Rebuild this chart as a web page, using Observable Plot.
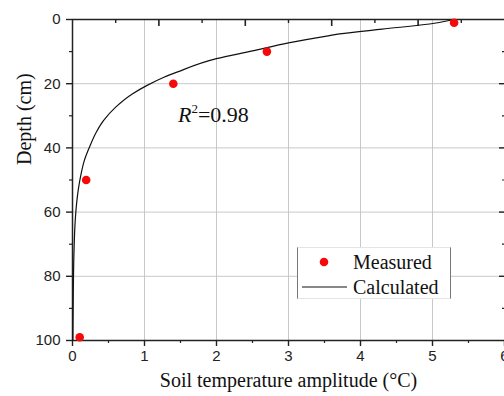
<!DOCTYPE html>
<html>
<head>
<meta charset="utf-8">
<script src="https://cdn.jsdelivr.net/npm/d3@7"></script>
<script src="https://cdn.jsdelivr.net/npm/@observablehq/plot@0.6"></script>
<style>
  html, body { margin: 0; padding: 0; background: #fff; overflow: hidden; }
  #wrap { position: relative; width: 504px; height: 396px; }
  .serif { font-family: "Liberation Serif", "Times New Roman", serif; color: #111; position: absolute; white-space: nowrap; }
  #r2 { left: 178px; top: 104px; font-size: 22px; line-height: 1; }
  #legend { left: 297px; top: 247px; width: 154px; height: 52px; background: #fff;
            border-top: 1px solid #e4e4e4; border-bottom: 1px solid #e4e4e4;
            border-left: 1px solid #777; border-right: 1px solid #777; box-sizing: border-box; }
</style>
</head>
<body>
<div id="wrap"></div>
<script>
// Measured points
const measuredAmp = [5.3, 2.7, 1.4, 0.19, 0.1];
const measuredDepth = [1, 10, 20, 50, 99];

// Calculated curve
const calcAmp = [5.30, 4.96, 4.30, 3.71, 3.57, 3.0, 2.5, 2.0, 1.45, 1.27, 1.03, 0.83, 0.60, 0.43, 0.33, 0.235, 0.165, 0.12, 0.083, 0.056, 0.038, 0.02, 0.011, 0.005];
const calcDepth = [0, 1.4, 3.0, 4.5, 5.0, 7.3, 9.8, 12.2, 16.4, 18.0, 20.6, 23.2, 27.3, 31.5, 35.1, 39.8, 43.9, 48, 52.6, 57.5, 62.6, 73, 85, 100];

// Ticks
const xMajor = [0, 1, 2, 3, 4, 5, 6];
const xMinor = [0.5, 1.5, 2.5, 3.5, 4.5, 5.5];
const xTopMajor = [1.2, 2.4, 3.6, 4.8];
const xTopMinor = [0.6, 1.8, 3.0, 4.2, 5.4];
const yMajor = [0, 20, 40, 60, 80, 100];
const yMinor = [10, 30, 50, 70, 90];
const xGrid = [1, 2, 3, 4, 5];
const yGrid = [20, 40, 60, 80];

const xTitle = "Soil temperature amplitude (°C)";
const yTitle = "Depth (cm)";
const legendLabels = ["Measured", "Calculated"];
const r2Text = "0.98";

const measured = measuredAmp.map((a, i) => ({amp: a, depth: measuredDepth[i]}));
const calc = calcAmp.map((a, i) => ({amp: a, depth: calcDepth[i]}));

const axisColor = "#222";
const tickFont = "'Liberation Sans', Arial, sans-serif";
const serif = "'Liberation Serif', 'Times New Roman', serif";

const W = 504, H = 396, mT = 19, mB = 56;
const frameH = H - mT - mB;

const chart = Plot.plot({
  width: W,
  height: H,
  marginLeft: 72,
  marginRight: 0,
  marginTop: mT,
  marginBottom: mB,
  style: {background: "#fff", overflow: "visible"},
  x: {domain: [0, 6]},
  y: {domain: [0, 100], reverse: true},
  marks: [
    Plot.gridX(xGrid, {stroke: "#c8c8c8", strokeOpacity: 1, strokeWidth: 1}),
    Plot.gridY(yGrid, {stroke: "#c8c8c8", strokeOpacity: 1, strokeWidth: 1}),
    // bottom axis
    Plot.axisX(xMajor, {anchor: "bottom", tickSize: 6, tickPadding: 4, stroke: axisColor, strokeWidth: 1.4, fill: axisColor, fontSize: 15, fontFamily: tickFont, label: null}),
    Plot.axisX(xMinor, {anchor: "bottom", tickSize: 3, text: null, stroke: axisColor, strokeWidth: 1.2, label: null}),
    // top axis (inward ticks)
    Plot.ruleX(xTopMajor, {x: d => d, insetBottom: frameH - 7, stroke: axisColor, strokeWidth: 1.6}),
    Plot.ruleX(xTopMinor, {x: d => d, insetBottom: frameH - 4, stroke: axisColor, strokeWidth: 1.4}),
    // left axis
    Plot.axisY(yMajor, {anchor: "left", tickSize: 6, tickPadding: 6, stroke: axisColor, strokeWidth: 1.4, fill: axisColor, fontSize: 15, fontFamily: tickFont, label: null}),
    Plot.axisY(yMinor, {anchor: "left", tickSize: 3, text: null, stroke: axisColor, strokeWidth: 1.2, label: null}),
    // right axis (inward ticks)
    Plot.axisY(yGrid, {anchor: "right", tickSize: -6, text: null, stroke: axisColor, strokeWidth: 1.4, label: null}),
    Plot.axisY(yMinor, {anchor: "right", tickSize: -3, text: null, stroke: axisColor, strokeWidth: 1.2, label: null}),
    // frame lines
    Plot.ruleY([0, 100], {stroke: axisColor, strokeWidth: 1.5}),
    Plot.ruleX([0], {stroke: axisColor, strokeWidth: 1.5}),
    // data
    Plot.line(calc, {x: "amp", y: "depth", curve: "monotone-y", stroke: "#111", strokeWidth: 1.2}),
    Plot.dot(measured, {x: "amp", y: "depth", r: 4.3, fill: "#f50a0a", stroke: "none"}),
    // titles
    Plot.text([xTitle], {frameAnchor: "bottom", dy: 40, text: d => d, fontSize: 20, fontFamily: serif, fill: "#111", lineAnchor: "middle"}),
    Plot.text([yTitle], {frameAnchor: "left", dx: -48, dy: -15, rotate: -90, text: d => d, fontSize: 20, fontFamily: serif, fill: "#111", lineAnchor: "middle"})
  ]
});

const wrap = document.getElementById("wrap");
wrap.appendChild(chart);

// R² annotation
const r2 = document.createElement("div");
r2.id = "r2";
r2.className = "serif";
r2.innerHTML = `<i>R</i><sup style="font-size:13px;vertical-align:9px;line-height:0">2</sup>=${r2Text}`;
wrap.appendChild(r2);

// Legend
const legend = document.createElement("div");
legend.id = "legend";
legend.className = "serif";
legend.innerHTML = `
<svg width="152" height="50" style="position:absolute;left:0;top:0">
  <circle cx="26" cy="14" r="4.3" fill="#f50a0a"></circle>
  <text x="55" y="21" font-family="Liberation Serif, Times New Roman, serif" font-size="20" fill="#111">${legendLabels[0]}</text>
  <line x1="4" x2="49" y1="39" y2="39" stroke="#111" stroke-width="1.2"></line>
  <text x="55" y="46" font-family="Liberation Serif, Times New Roman, serif" font-size="20" fill="#111">${legendLabels[1]}</text>
</svg>`;
wrap.appendChild(legend);
</script>
</body>
</html>
